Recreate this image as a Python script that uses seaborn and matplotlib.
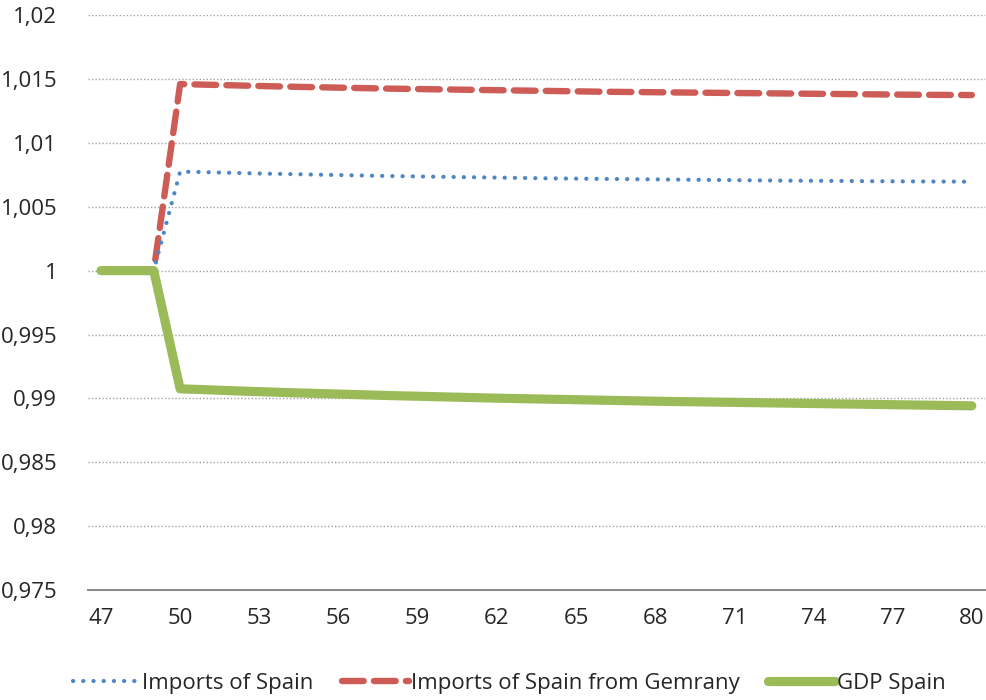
import matplotlib
matplotlib.use("Agg")
import matplotlib.pyplot as plt
import matplotlib.ticker as mticker
import pandas as pd
import seaborn as sns

# --- data ---

periods = list(range(47, 81))

imports_spain = [1.0, 1.0, 1.0,
                 1.00775, 1.00770, 1.00765, 1.00760, 1.00756, 1.00752, 1.00748,
                 1.00744, 1.00740, 1.00737, 1.00734, 1.00731, 1.00728, 1.00725,
                 1.00722, 1.00720, 1.00718, 1.00716, 1.00714, 1.00712, 1.00710,
                 1.00708, 1.00706, 1.00704, 1.00703, 1.00702, 1.00700, 1.00699,
                 1.00698, 1.00697, 1.00696]

imports_from_germany = [1.0, 1.0, 1.0,
                        1.01460, 1.01455, 1.01450, 1.01445, 1.01440, 1.01436,
                        1.01432, 1.01428, 1.01424, 1.01421, 1.01418, 1.01415,
                        1.01412, 1.01409, 1.01406, 1.01403, 1.01400, 1.01398,
                        1.01396, 1.01394, 1.01392, 1.01390, 1.01388, 1.01386,
                        1.01384, 1.01382, 1.01380, 1.01378, 1.01376, 1.01375,
                        1.01374]

gdp_spain = [1.0, 1.0, 1.0,
             0.99075, 0.99068, 0.99060, 0.99053, 0.99046, 0.99040, 0.99034,
             0.99028, 0.99022, 0.99017, 0.99012, 0.99007, 0.99002, 0.98998,
             0.98994, 0.98990, 0.98986, 0.98982, 0.98978, 0.98975, 0.98972,
             0.98969, 0.98966, 0.98963, 0.98960, 0.98957, 0.98954, 0.98951,
             0.98948, 0.98945, 0.98942]

series_names = ["Imports of Spain", "Imports of Spain from Gemrany", "GDP Spain"]
series_colors = ["#4f86c6", "#cd5c56", "#9bbb59"]

df = pd.DataFrame({
    "period": periods * 3,
    "value": imports_spain + imports_from_germany + gdp_spain,
    "series": [series_names[0]] * len(periods)
              + [series_names[1]] * len(periods)
              + [series_names[2]] * len(periods),
})

sns.set_style("white")
plt.rcParams["font.family"] = ["Open Sans", "DejaVu Sans"]

fig = plt.figure(figsize=(9.86, 7.0), dpi=100)
ax = fig.add_axes([0.089, 0.157, 0.910, 0.8215])

# line looks: dotted blue, dashed red, thick solid green
styles = {
    series_names[0]: dict(lw=3.0, ls=(0, (0.05, 2.4)), zorder=3),
    series_names[1]: dict(lw=4.6, ls=(0, (3.4, 1.6)), zorder=2),
    series_names[2]: dict(lw=6.6, ls="-", zorder=4),
}

for name, color in zip(series_names, series_colors):
    sub = df[df["series"] == name]
    st = styles[name]
    sns.lineplot(data=sub, x="period", y="value", ax=ax, color=color,
                 linewidth=st["lw"], linestyle=st["ls"], zorder=st["zorder"],
                 label=name, dash_capstyle="round", solid_capstyle="round")

ax.set_xlim(46.5, 80.5)
ax.set_ylim(0.975, 1.02)
ax.set_xticks(list(range(47, 81, 3)))
ax.yaxis.set_major_locator(mticker.MultipleLocator(0.005))


def comma_fmt(v, pos):
    s = f"{v:.3f}".rstrip("0").rstrip(".")
    return s.replace(".", ",")


ax.yaxis.set_major_formatter(mticker.FuncFormatter(comma_fmt))
ax.grid(axis="y", color="#a0a0a0", linestyle=(0, (1, 1.5)), linewidth=1.0)
ax.grid(axis="x", visible=False)
for side in ["top", "right", "left"]:
    ax.spines[side].set_visible(False)
ax.spines["bottom"].set_color("#8c8c8c")
ax.spines["bottom"].set_linewidth(1.5)
ax.tick_params(axis="both", length=0, labelsize=16, colors="#262626")
ax.tick_params(axis="y", pad=22)
ax.tick_params(axis="x", pad=13)
ax.set_xlabel("")
ax.set_ylabel("")

ax.legend(loc="center", bbox_to_anchor=(0.47, -0.162), ncol=3,
          frameon=False, fontsize=16, handlelength=3.0, handletextpad=0.1,
          columnspacing=1.3, labelcolor="#262626")

fig.savefig("out.png", dpi=100)
